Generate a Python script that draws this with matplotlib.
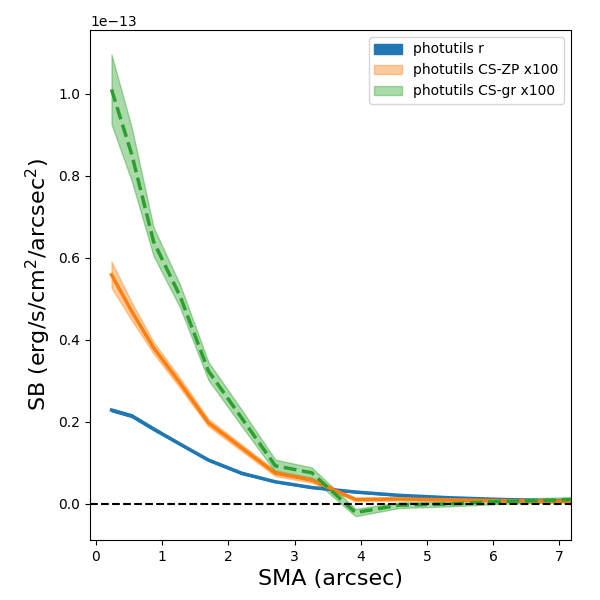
import matplotlib
matplotlib.use("Agg")
import matplotlib.pyplot as plt
import numpy as np

# semi-major axis (arcsec)
sma = np.array([0.235, 0.54, 0.87, 1.27, 1.70, 2.20, 2.71, 3.26, 3.92, 4.58, 5.35, 6.10, 6.85, 7.65])

# photutils r-band profile
sb_r = np.array([0.229, 0.215, 0.183, 0.146, 0.107, 0.075, 0.054, 0.040, 0.029, 0.021, 0.015, 0.011, 0.008, 0.006]) * 1e-13
err_r = np.array([0.003, 0.003, 0.003, 0.002, 0.002, 0.002, 0.001, 0.001, 0.001, 0.001, 0.001, 0.001, 0.001, 0.001]) * 1e-13

# CS-ZP x100
sb_zp = np.array([0.559, 0.470, 0.381, 0.295, 0.198, 0.137, 0.075, 0.058, 0.011, 0.012, 0.010, 0.008, 0.007, 0.006]) * 1e-13
err_zp = np.array([0.032, 0.022, 0.014, 0.012, 0.009, 0.008, 0.007, 0.006, 0.004, 0.004, 0.003, 0.003, 0.003, 0.003]) * 1e-13

# CS-gr x100
sb_gr = np.array([1.011, 0.853, 0.640, 0.507, 0.324, 0.210, 0.093, 0.076, -0.021, -0.003, 0.000, 0.006, 0.009, 0.013]) * 1e-13
err_gr = np.array([0.085, 0.065, 0.035, 0.028, 0.022, 0.020, 0.015, 0.013, 0.009, 0.007, 0.006, 0.006, 0.006, 0.006]) * 1e-13

fig, ax = plt.subplots(figsize=(6, 6), dpi=100)
fig.subplots_adjust(left=0.15, right=0.952, top=0.95, bottom=0.10)

ax.fill_between(sma, sb_r - err_r, sb_r + err_r, color='C0', alpha=1.0, label='photutils r')
ax.plot(sma, sb_r, color='C0', lw=2.5)

ax.fill_between(sma, sb_zp - err_zp, sb_zp + err_zp, color='C1', alpha=0.4, label='photutils CS-ZP x100')
ax.plot(sma, sb_zp, color='C1', lw=2.5)

ax.fill_between(sma, sb_gr - err_gr, sb_gr + err_gr, color='C2', alpha=0.4, label='photutils CS-gr x100')
ax.plot(sma, sb_gr, color='C2', lw=2.5, ls='--')

ax.axhline(0, color='k', ls='--', lw=1.5)

ax.set_xlim(-0.09, 7.18)
ax.set_ylim(-0.088e-13, 1.156e-13)
ax.set_xlabel('SMA (arcsec)', fontsize=16)
ax.set_ylabel('SB (erg/s/cm$^2$/arcsec$^2$)', fontsize=16)
ax.legend(loc='upper right')

plt.savefig('out.png')
